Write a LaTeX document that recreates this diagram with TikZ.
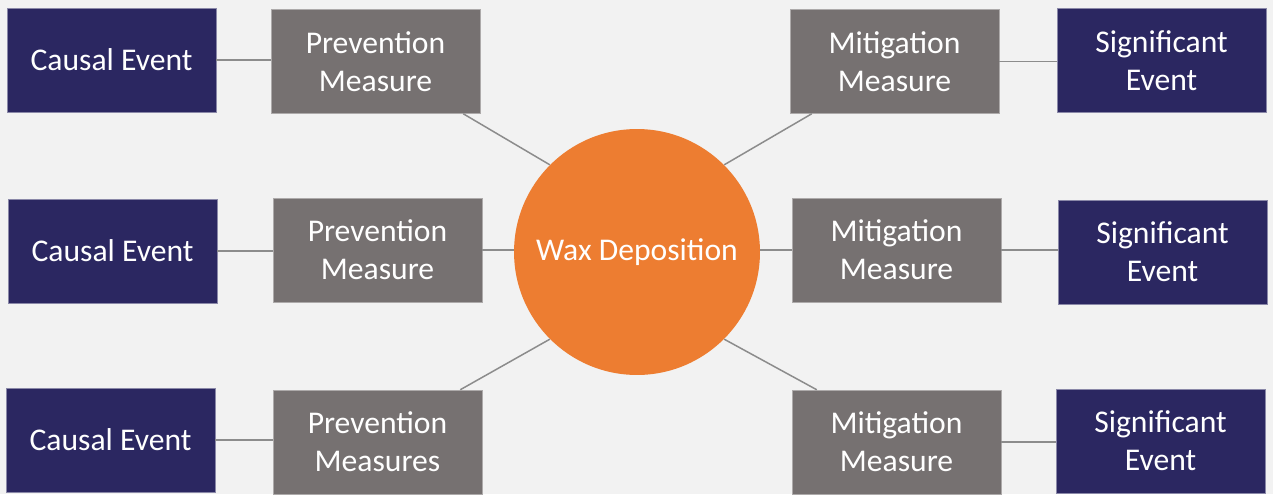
\documentclass[tikz,border=0pt]{standalone}
\usepackage{fontspec}
\setmainfont{Carlito}
\usepackage{xcolor}
\usepackage{tikz}
\usetikzlibrary{positioning}
\definecolor{Hintergrund}{HTML}{F2F2F2}
\definecolor{Navy}{HTML}{2B2761}
\definecolor{Grau}{HTML}{767171}
\definecolor{Orange}{HTML}{ED7D31}
\definecolor{Linie}{HTML}{8C8C8C}
\tikzset{
  Box/.style={rectangle, inner sep=0pt, minimum width=4.18cm, minimum height=2.08cm,
    text=white, align=center, font=\fontsize{18}{21.6}\selectfont}, % Grundform
  EventBox/.style={Box, fill=Navy, draw=Navy!55!white, line width=0.3pt}, % Ereignisse
  MeasureBox/.style={Box, fill=Grau, draw=Grau!60!white, line width=0.3pt}, % Massnahmen
  Link/.style={draw=Linie, line width=0.85pt} % Verbindungen
}

\begin{document}
\begin{tikzpicture}[x=0.02cm, y=-0.02cm]
\fill[Hintergrund] (0,0) rectangle (1273,494);
\useasboundingbox (0,0) rectangle (1273,494);

%Mitte
\node[circle, fill=Orange, minimum size=4.92cm, inner sep=0pt, text=white,
  font=\fontsize{18}{21.6}\selectfont] (wax) at (637,252) {Wax Deposition};

%Ursachen
\node[EventBox] (C1) at (111.5,60) {Causal Event};
\node[EventBox] (C2) at (112.5,251) {Causal Event};
\node[EventBox] (C3) at (110.5,440) {Causal Event};

%Praevention
\node[MeasureBox] (P1) at (375.5,61.5) {Prevention\\Measure};
\node[MeasureBox] (P2) at (377.5,250) {Prevention\\Measure};
\node[MeasureBox] (P3) at (377.5,442) {Prevention\\Measures};

%Minderung
\node[MeasureBox] (M1) at (894.5,61.5) {Mitigation\\Measure};
\node[MeasureBox] (M2) at (896.5,250) {Mitigation\\Measure};
\node[MeasureBox] (M3) at (896.5,442) {Mitigation\\Measure};

%Folgen
\node[EventBox] (S1) at (1161.5,60.5) {Significant\\Event};
\node[EventBox] (S2) at (1162.5,252) {Significant\\Event};
\node[EventBox] (S3) at (1160.5,441) {Significant\\Event};

%Verbindungen
\draw[Link] (C1.east) -- (C1.east -| P1.west);
\draw[Link] (C2.east) -- (C2.east -| P2.west);
\draw[Link] (C3.east) -- (C3.east -| P3.west);

\draw[Link] ([xshift=-0.34cm]P1.south east) -- (wax.135);
\draw[Link] (P2.east) -- (P2.east -| wax.west);
\draw[Link] ([xshift=-0.44cm]P3.north east) -- (wax.225);

\draw[Link] (wax.45) -- ([xshift=0.44cm]M1.south west);
\draw[Link] (M2.west -| wax.east) -- (M2.west);
\draw[Link] (wax.315) -- ([xshift=0.5cm]M3.north west);

\draw[Link] (M1.east) -- (M1.east -| S1.west);
\draw[Link] (M2.east) -- (M2.east -| S2.west);
\draw[Link] (M3.east) -- (M3.east -| S3.west);

\end{tikzpicture}
\end{document}
